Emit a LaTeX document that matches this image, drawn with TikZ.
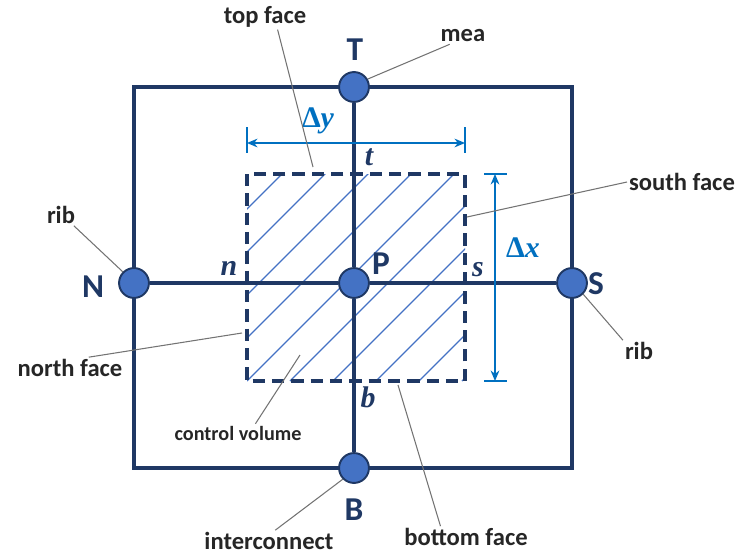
\documentclass[tikz,border=0pt]{standalone}
\usepackage{fontspec}
\setmainfont{Carlito}
\newfontfamily\varfont{Liberation Serif}
\definecolor{navy}{HTML}{1F3864}
\definecolor{ballblue}{HTML}{4472C4}
\definecolor{dimblue}{HTML}{0070C0}
\usetikzlibrary{arrows.meta}

\begin{document}
\begin{tikzpicture}[x=0.02cm, y=-0.02cm,
    frame/.style={draw=navy, line width=2.2pt},
    ball/.style={circle, draw=navy, line width=1.1pt, fill=ballblue, minimum size=17pt, inner sep=0pt},
    letter/.style={text=navy, font=\bfseries\fontsize{19}{19}\selectfont},
    face/.style={text=black!85, inner sep=1pt, font=\bfseries\fontsize{14}{16}\selectfont},
    facevar/.style={text=navy, font=\varfont\bfseries\itshape\fontsize{17}{17}\selectfont},
    dimlabel/.style={text=dimblue, font=\varfont\bfseries\fontsize{17}{17}\selectfont},
    leader/.style={draw=black!55, line width=0.6pt},
    cvbox/.style={draw=navy, line width=2.2pt, dash pattern=on 7pt off 4pt},
    hatch/.style={draw=ballblue, line width=0.75pt},
    dim/.style={draw=dimblue, line width=0.8pt},
    dimarrow/.style={dim, {Stealth[length=6pt,width=5pt]}-{Stealth[length=6pt,width=5pt]}}]
  \useasboundingbox (0,0) rectangle (741,558);

  \begin{scope}
    \clip (247,174) rectangle (465,381);
    \foreach \k in {-5,...,5}
      \draw[hatch] (247+43*\k,381) -- ++(215,-215);
  \end{scope}
  \draw[cvbox] (247,174) rectangle (465,381);

  \draw[frame] (134,87) rectangle (572,468);

  \node[ball] (T) at (354,87) {};
  \node[ball] (B) at (354,468) {};
  \node[ball] (N) at (134,283) {};
  \node[ball] (S) at (572,283) {};
  \node[ball] (P) at (354,283) {};

  \draw[frame] (N) -- (P) -- (S);
  \draw[frame] (T) -- (P) -- (B);

  \node[letter] (Tl) at (355,50) {T};
  \node[letter] (Bl) at (354,510) {B};
  \node[letter] (Nl) at (93,287) {N};
  \node[letter] (Sl) at (596,284) {S};
  \node[letter] (Pl) at (381,264) {P};

  \node[facevar] (tl) at (369,157) {t};
  \node[facevar] (nl) at (229,268) {n};
  \node[facevar] (sl) at (478,270) {s};
  \node[facevar] (bl) at (368,397) {b};

  \coordinate (dyA) at (247,143);
  \coordinate (dyB) at (465,143);
  \draw[dim] (247,127) -- (247,153) (465,127) -- (465,153);
  \draw[dimarrow] (dyA) -- (dyB);
  \node[dimlabel] (dy) at (318,121) {Δ\itshape y};

  \coordinate (dxA) at (495,174);
  \coordinate (dxB) at (495,381);
  \draw[dim] (484,174) -- (507,174) (484,381) -- (507,381);
  \draw[dimarrow] (dxA) -- (dxB);
  \node[dimlabel] (dx) at (523,248) {Δ\itshape x};

  \node[face] (tf) at (265,17) {top face};
  \node[face] (mea) at (463,36) {mea};
  \node[face] (ribN) at (61,215) {rib};
  \node[face] (nf) at (70,368) {north face};
  \node[face] (sf) at (682,182) {south face};
  \node[face] (ribS) at (639,351) {rib};
  \node[face, font=\bfseries\fontsize{11.5}{13}\selectfont] (cv) at (238,433) {control volume};
  \node[face] (ic) at (269,541) {interconnect};
  \node[face] (bf) at (466,537) {bottom face};

  \coordinate (tfEnd) at (313,167);
  \coordinate (nfEnd) at (242,333);
  \coordinate (sfEnd) at (467,217);
  \coordinate (cvEnd) at (300,355);
  \coordinate (bfEnd) at (398,385);

  \draw[leader] (tf.-45) -- (tfEnd);
  \draw[leader] (mea.212) -- (T.30);
  \draw[leader] (ribN.-40) -- (N.135);
  \draw[leader] (nf.30) -- (nfEnd);
  \draw[leader] (sf.west) -- (sfEnd);
  \draw[leader] (ribS.north west) -- (S.-45);
  \draw[leader] (cv.28) -- (cvEnd);
  \draw[leader] (ic.60) -- (B.-135);
  \draw[leader] (bf.157) -- (bfEnd);
\end{tikzpicture}
\end{document}
